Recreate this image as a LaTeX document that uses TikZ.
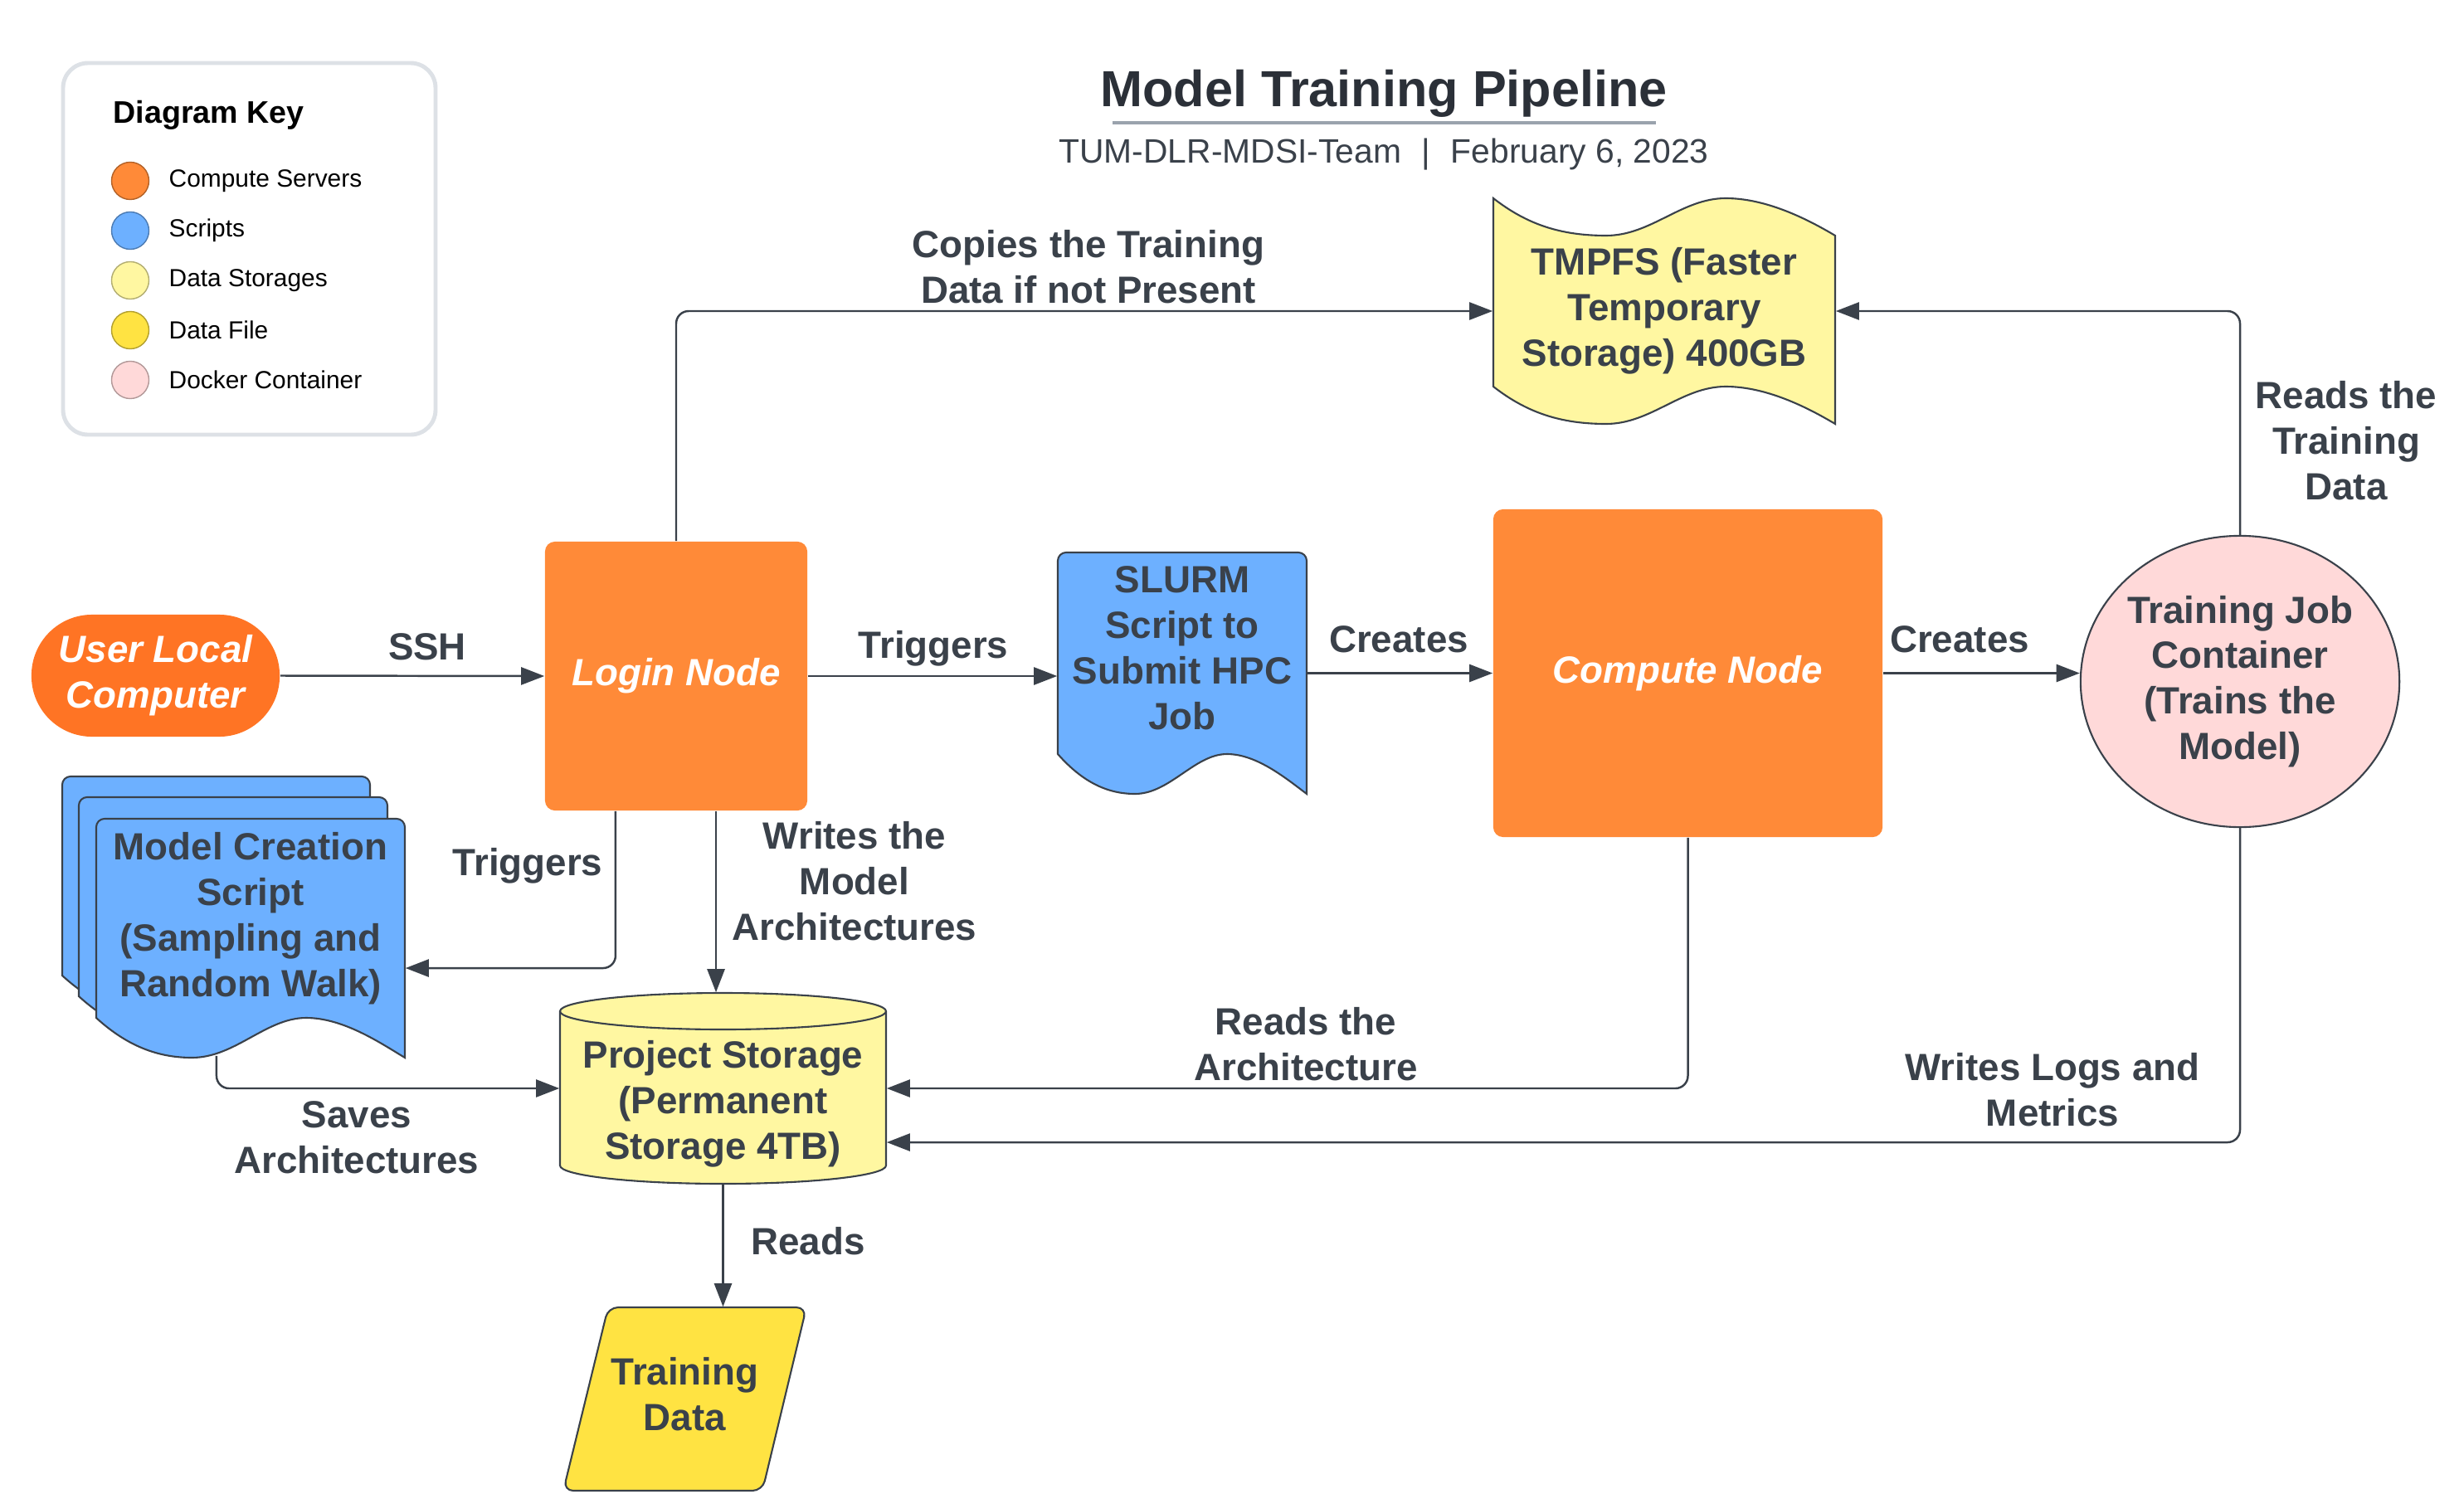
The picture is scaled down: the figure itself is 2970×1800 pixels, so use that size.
\documentclass[tikz,border=0pt]{standalone}
\usepackage{fontspec}
\setmainfont{Liberation Sans}
\usetikzlibrary{arrows.meta,shapes.geometric}

\definecolor{ink}{HTML}{3A414A}
\definecolor{titleink}{HTML}{2B3038}
\definecolor{serverorange}{HTML}{FF8A38}
\definecolor{localorange}{HTML}{FF7424}
\definecolor{scriptblue}{HTML}{6DB0FF}
\definecolor{storeyellow}{HTML}{FFF7A1}
\definecolor{fileyellow}{HTML}{FFE342}
\definecolor{podpink}{HTML}{FFD9D9}
\definecolor{keyframe}{HTML}{DDE1E6}
\definecolor{rulegrey}{HTML}{9AA3AD}

\tikzset{
  lbl/.style={font=\bfseries\fontsize{13}{15.6}\selectfont, text=ink, align=center, inner sep=0pt},
  flow/.style={draw=ink, line width=0.7pt, rounded corners=0.15cm, -{Triangle[length=8pt,width=6pt]}},
  server/.style={fill=serverorange, text=white, font=\bfseries\itshape\fontsize{13}{15.6}\selectfont,
    align=center, rounded corners=0.12cm, inner sep=0pt},
  shapeline/.style={draw=ink, line width=0.6pt},
  scriptbox/.style={shapeline, fill=scriptblue},
  storebox/.style={shapeline, fill=storeyellow},
  filebox/.style={shapeline, fill=fileyellow},
  keydot/.style={circle, minimum size=0.45cm, inner sep=0pt, line width=0.4pt, fill=#1, draw=#1!70!black},
  keytext/.style={anchor=west, font=\fontsize{8.5}{10}\selectfont, inner sep=0pt}
}

% document shape with a wavy bottom: style, left, top, width, body height
\newcommand{\docshape}[5]{%
  \begin{scope}[shift={(#2,#3)}]
    \draw[#1] (0,-#5) [rounded corners=0.1cm] -- (0,0) -- (#4,0) [sharp corners] -- (#4,{-#5-48})
      .. controls ({0.92*#4},{-#5-30}) and ({0.8*#4},-#5) .. ({0.68*#4},-#5)
      .. controls ({0.55*#4},-#5) and ({0.45*#4},{-#5-48}) .. ({0.31*#4},{-#5-48})
      .. controls ({0.2*#4},{-#5-48}) and ({0.1*#4},{-#5-34}) .. (0,-#5) -- cycle;
  \end{scope}}

\begin{document}
\begin{tikzpicture}[x=0.01cm, y=0.01cm]
  \useasboundingbox (0,0) rectangle (2970,-1800);

  % key
  \draw[draw=keyframe, line width=1.4pt, rounded corners=0.3cm] (76,-76) rectangle (525,-524);
  \node[anchor=west, font=\bfseries\fontsize{10.7}{12}\selectfont, inner sep=0pt] (keytitle) at (136,-139) {Diagram Key};
  \node[keydot=serverorange] (kserver) at (157,-218) {};
  \node[keytext] (tserver) at (203,-218) {Compute Servers};
  \node[keydot=scriptblue] (kscript) at (157,-278) {};
  \node[keytext] (tscript) at (203,-278) {Scripts};
  \node[keydot=storeyellow] (kstore) at (157,-338) {};
  \node[keytext] (tstore) at (203,-338) {Data Storages};
  \node[keydot=fileyellow] (kfile) at (157,-398) {};
  \node[keytext] (tfile) at (203,-398) {Data File};
  \node[keydot=podpink] (kpod) at (157,-458) {};
  \node[keytext] (tpod) at (203,-458) {Docker Container};

  % title
  \node[font=\bfseries\fontsize{17.4}{20}\selectfont, text=titleink, inner sep=0pt] (title) at (1668,-113) {Model Training Pipeline};
  \draw[rulegrey, line width=0.9pt] (1341,-148) -- (1996,-148);
  \node[font=\fontsize{11.6}{13}\selectfont, text=ink, inner sep=0pt] (subtitle) at (1668,-186)
    {TUM-DLR-MDSI-Team\hspace{7pt}|\hspace{7pt}February 6, 2023};

  % drawn shapes
  \docshape{scriptbox}{75}{-936}{371}{240}
  \docshape{scriptbox}{95}{-961}{372}{240}
  \docshape{scriptbox}{116}{-987}{372}{240}
  \docshape{scriptbox}{1275}{-666}{300}{243}
  \begin{scope}[shift={(1800,-239)}]
    \draw[storebox] (0,0) .. controls (41,-32) and (82,-45) .. (136,-45)
      .. controls (190,-45) and (227,0) .. (280,0) .. controls (330,0) and (380,-26) .. (412,-45)
      -- (412,-272) .. controls (380,-253) and (330,-227) .. (280,-227)
      .. controls (227,-227) and (190,-272) .. (136,-272) .. controls (82,-272) and (41,-259) .. (0,-227) -- cycle;
  \end{scope}
  \draw[storebox] (675,-1219) -- (675,-1405) arc[start angle=180, end angle=360, x radius=196.5, y radius=22]
    -- (1068,-1219) arc[start angle=0, end angle=180, x radius=196.5, y radius=22] -- cycle;
  \draw[shapeline] (675,-1219) arc[start angle=180, end angle=360, x radius=196.5, y radius=22];
  \draw[filebox, rounded corners=0.12cm] (733,-1576) -- (972,-1576) -- (919,-1797) -- (679,-1797) -- cycle;

  % nodes
  \node[server, fill=localorange, minimum width=2.99cm, minimum height=1.47cm, rounded corners=0.73cm] (local) at (187.5,-814.5) {User Local\\Computer};
  \node[server, minimum width=3.16cm, minimum height=3.24cm] (login) at (815,-815) {Login Node};
  \node[server, minimum width=4.69cm, minimum height=3.95cm] (compute) at (2034.5,-811.5) {Compute Node};
  \node[ellipse, shapeline, fill=podpink, lbl, minimum width=3.76cm, minimum height=3.51cm] (trainjob) at (2700,-821.5) {Training Job\\Container\\(Trains the\\Model)};
  \node[lbl, minimum width=3cm, minimum height=2.3cm] (slurm) at (1425,-781.5) {SLURM\\Script to\\Submit HPC\\Job};
  \node[lbl, minimum width=3.72cm, minimum height=2.4cm] (model) at (302,-1107) {Model Creation\\Script\\(Sampling and\\Random Walk)};
  \node[lbl, minimum width=4.12cm, minimum height=2.72cm] (tmpfs) at (2006,-375) {TMPFS (Faster\\Temporary\\Storage) 400GB};
  \node[lbl, minimum width=3.93cm, minimum height=2.3cm] (proj) at (871.5,-1312)
    {\raisebox{-0.3cm}[0pt][0pt]{\begin{tabular}{@{}c@{}}Project Storage\\(Permanent\\Storage 4TB)\end{tabular}}};
  \node[lbl, minimum width=2.93cm, minimum height=2.1cm] (data) at (825.5,-1681) {Training\\Data};

  % connectors
  \draw[flow] (local.east) -- (login.west);
  \draw[flow] (login.east) -- (login.east -| slurm.west);
  \draw[flow] (slurm.east |- compute.west) -- (compute.west);
  \draw[flow] (compute.east) -- (compute.east -| trainjob.west);
  \draw[flow] (login.north) |- (tmpfs.west);
  \draw[flow] (trainjob.north) |- (tmpfs.east);
  \draw[flow] ([xshift=-0.73cm]login.south) |- ([yshift=-0.6cm]model.east);
  \draw[flow] ([xshift=0.48cm]login.south) -- ([xshift=0.48cm]login.south |- proj.north);
  \draw[flow] ([xshift=-0.41cm,yshift=-0.45cm]model.south) |- (proj.west);
  \draw[flow] (compute.south) |- (proj.east);
  \draw[flow] (trainjob.south) |- ([yshift=-0.65cm]proj.east);
  \draw[flow] (proj.south) -- (proj.south |- data.north);

  % connector labels
  \node[lbl] (lssh) at (515,-780) {SSH};
  \node[lbl] (ltrig) at (1125,-782) {Triggers};
  \node[lbl] (lcreate) at (1686,-771) {Creates};
  \node[lbl] (lspawn) at (2362,-771) {Creates};
  \node[lbl] (lcopy) at (1312,-322) {Copies the Training\\Data if not Present};
  \node[lbl] (lread) at (2828,-531) {Reads the\\Training\\Data};
  \node[lbl] (ltrig2) at (636,-1044) {Triggers};
  \node[lbl] (lwrite) at (1030,-1062) {Writes the\\Model\\Architectures};
  \node[lbl] (lsave) at (430,-1371) {Saves\\Architectures};
  \node[lbl] (larch) at (1574,-1259) {Reads the\\Architecture};
  \node[lbl] (llogs) at (2474,-1314) {Writes Logs and\\Metrics};
  \node[lbl] (lreads) at (974,-1496) {Reads};
\end{tikzpicture}
\end{document}
